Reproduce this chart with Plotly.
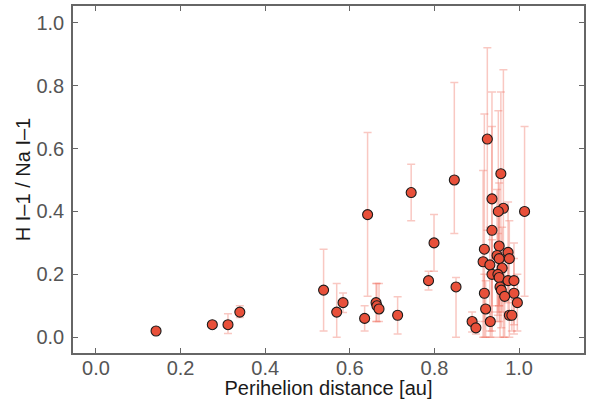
import plotly.graph_objects as go
import numpy as np

# Perihelion distance [au]
q_au = [0.142, 0.275, 0.312, 0.340, 0.538, 0.569, 0.584, 0.635, 0.642, 0.662,
        0.664, 0.669, 0.713, 0.745, 0.786, 0.799,
        0.925, 0.847, 0.957, 0.936, 0.963, 0.951, 1.013, 0.936,
        0.918, 0.953, 0.974, 0.948, 0.953, 0.977, 0.915, 0.931, 0.960, 0.936,
        0.950, 0.953, 0.974, 0.988, 0.851, 0.955, 0.958, 0.918, 0.988, 0.966,
        0.996, 0.921, 0.977, 0.983, 0.889, 0.898, 0.932]
# H I-1 / Na I-1 ratio
ratio = [0.02, 0.04, 0.04, 0.08, 0.15, 0.08, 0.11, 0.06, 0.39, 0.11,
         0.10, 0.09, 0.07, 0.46, 0.18, 0.30,
         0.63, 0.50, 0.52, 0.44, 0.41, 0.40, 0.40, 0.34,
         0.28, 0.29, 0.27, 0.26, 0.25, 0.25, 0.24, 0.23, 0.22, 0.20,
         0.20, 0.19, 0.18, 0.18, 0.16, 0.16, 0.15, 0.14, 0.14, 0.13,
         0.11, 0.09, 0.07, 0.07, 0.05, 0.03, 0.05]
# upper end of the error bar
ratio_hi = [0.02, 0.04, 0.075, 0.10, 0.28, 0.171, 0.141, 0.10, 0.651, 0.171,
            0.171, 0.171, 0.129, 0.55, 0.21, 0.39,
            0.92, 0.81, 0.78, 0.78, 0.85, 0.72, 0.67, 0.67,
            0.71, 0.49, 0.43, 0.47, 0.40, 0.37, 0.53, 0.35, 0.35, 0.31,
            0.33, 0.29, 0.26, 0.30, 0.19, 0.27, 0.24, 0.20, 0.25, 0.22,
            0.20, 0.18, 0.12, 0.13, 0.08, 0.05, 0.08]
# lower end of the error bar
ratio_lo = [0.02, 0.04, 0.012, 0.063, 0.02, 0.00, 0.079, 0.02, 0.13, 0.05,
            0.05, 0.05, 0.01, 0.37, 0.15, 0.21,
            0.34, 0.33, 0.26, 0.10, 0.00, 0.08, 0.13, 0.02,
            0.00, 0.10, 0.11, 0.05, 0.10, 0.13, 0.00, 0.02, 0.08, 0.00,
            0.07, 0.05, 0.06, 0.04, 0.00, 0.00, 0.03, 0.05, 0.01, 0.00,
            0.02, 0.00, 0.00, 0.02, 0.017, 0.01, 0.00]

x_ticks = [0.0, 0.2, 0.4, 0.6, 0.8, 1.0]
y_ticks = [0.0, 0.2, 0.4, 0.6, 0.8, 1.0]

y = np.array(ratio)
err_plus = np.array(ratio_hi) - y
err_minus = y - np.array(ratio_lo)

fig = go.Figure()
fig.add_trace(go.Scatter(
    x=q_au, y=ratio, mode="markers",
    marker=dict(size=10, color="#E8503A", line=dict(color="#1a1a1a", width=1.1)),
    error_y=dict(type="data", symmetric=False, array=err_plus, arrayminus=err_minus,
                 color="rgba(240,110,95,0.38)", thickness=1.5, width=4),
    showlegend=False,
))

axis_common = dict(
    showline=True, linecolor="#666666", linewidth=1.5, mirror="allticks",
    ticks="inside", ticklen=5, tickwidth=1, tickcolor="#666666",
    showgrid=False, zeroline=False, automargin=False,
    tickfont=dict(size=20, color="#555555", family="Liberation Sans"),
    tickformat=".1f",
)

fig.update_xaxes(range=[-0.0543, 1.1535], tickvals=x_ticks, ticklabelstandoff=-4,
                 title=dict(text="Perihelion distance [au]", standoff=2,
                            font=dict(size=20, color="#1a1a1a", family="Liberation Sans")),
                 **axis_common)
fig.update_yaxes(range=[-0.05, 1.053], tickvals=y_ticks, ticklabelstandoff=3,
                 title=dict(text="H I–1 / Na I–1", standoff=0,
                            font=dict(size=20, color="#1a1a1a", family="Liberation Sans")),
                 **axis_common)

fig.update_layout(
    width=590, height=399,
    margin=dict(l=73, r=6, t=6, b=46),
    plot_bgcolor="white", paper_bgcolor="white",
    font=dict(family="Liberation Sans"),
)

fig.write_html("out.html")
